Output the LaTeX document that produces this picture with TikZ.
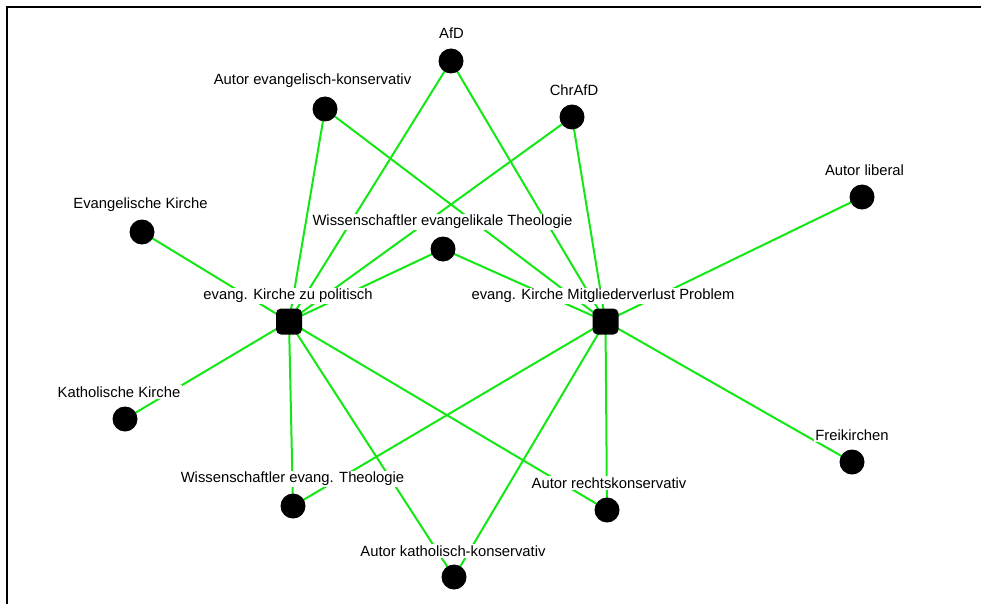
\documentclass[tikz,border=0pt]{standalone}
\usepackage{fontspec}
\setmainfont{Liberation Sans}
\definecolor{edgegreen}{RGB}{20,232,20}
\begin{document}
\begin{tikzpicture}[x=1pt,y=-1pt,
  dot/.style={circle,fill=black,draw=none,minimum size=25pt,inner sep=0pt},
  sq/.style={rectangle,rounded corners=5pt,fill=black,draw=none,minimum size=26pt,inner sep=0pt},
  lab/.style={fill=white,inner sep=1.5pt,font=\fontsize{14.8}{16}\selectfont},
  edge/.style={draw=edgegreen,line width=2pt}]
\useasboundingbox (0,0) rectangle (981,604);
\draw[line width=2pt] (7,604) -- (7,6.7) -- (981,6.7);
% node positions
\coordinate (pAfD) at (451,61);
\coordinate (pAek) at (325,109);
\coordinate (pChr) at (572,117);
\coordinate (pLib) at (862,197);
\coordinate (pEvK) at (142,232);
\coordinate (pWel) at (443,249);
\coordinate (pPol) at (289,321.5);
\coordinate (pMit) at (605.5,321.5);
\coordinate (pKat) at (125,419);
\coordinate (pFrei) at (852,462);
\coordinate (pWet) at (293,506);
\coordinate (pRek) at (607,510);
\coordinate (pKak) at (454,577);
% edges
\foreach \s in {pAfD,pAek,pChr,pEvK,pWel,pKat,pWet,pRek,pKak}
  \draw[edge] (\s) -- (pPol);
\foreach \s in {pAfD,pAek,pChr,pLib,pWel,pFrei,pWet,pRek,pKak}
  \draw[edge] (\s) -- (pMit);
% labels
\node[lab] (lAfD) at (451.5,33) {AfD};
\node[lab] (lAek) at (312.5,81) {Autor evangelisch-konservativ};
\node[lab] (lChr) at (574,90) {ChrAfD};
\node[lab] (lLib) at (864.5,170) {Autor liberal};
\node[lab] (lEvK) at (140.5,205) {Evangelische Kirche};
\node[lab] (lWel) at (442.5,222) {Wissenschaftler evangelikale Theologie};
\node[lab] (lPol) at (288,296) {evang. Kirche zu politisch};
\node[lab] (lMit) at (603,296) {evang. Kirche Mitgliederverlust Problem};
\node[lab] (lKat) at (119,392) {Katholische Kirche};
\node[lab] (lFrei) at (852,435) {Freikirchen};
\node[lab] (lWet) at (292.5,479) {Wissenschaftler evang. Theologie};
\node[lab] (lRek) at (609,483) {Autor rechtskonservativ};
\node[lab] (lKak) at (453,551) {Autor katholisch-konservativ};
% nodes
\node[dot] (AfD) at (pAfD) {};
\node[dot] (Aek) at (pAek) {};
\node[dot] (Chr) at (pChr) {};
\node[dot] (Lib) at (pLib) {};
\node[dot] (EvK) at (pEvK) {};
\node[dot] (Wel) at (pWel) {};
\node[sq] (Pol) at (pPol) {};
\node[sq] (Mit) at (pMit) {};
\node[dot] (Kat) at (pKat) {};
\node[dot] (Frei) at (pFrei) {};
\node[dot] (Wet) at (pWet) {};
\node[dot] (Rek) at (pRek) {};
\node[dot] (Kak) at (pKak) {};
\end{tikzpicture}
\end{document}
